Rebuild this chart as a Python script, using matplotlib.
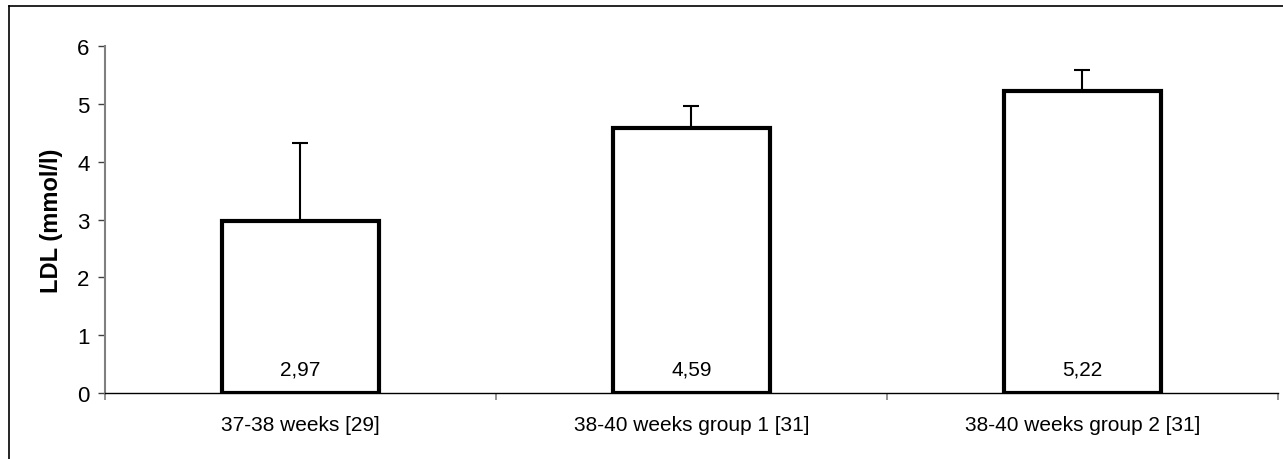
import numpy as np
import matplotlib.pyplot as plt
from matplotlib.lines import Line2D

plt.rcParams['font.family'] = ['Liberation Sans', 'DejaVu Sans']

groups = ['37-38 weeks [29]', '38-40 weeks group 1 [31]', '38-40 weeks group 2 [31]']
ldl_mean = [2.97, 4.59, 5.22]
ldl_err = [1.35, 0.38, 0.37]
value_labels = ['2,97', '4,59', '5,22']

fig = plt.figure(figsize=(12.83, 4.60), dpi=100)
ax = fig.add_axes([0.0818, 0.1435, 0.9143, 0.7543])

x = np.arange(len(groups))
ax.bar(x, ldl_mean, width=0.40, color='white', edgecolor='black', linewidth=3, zorder=2)
ax.errorbar(x, ldl_mean, yerr=[np.zeros(len(ldl_err)), ldl_err], fmt='none',
            ecolor='black', elinewidth=1.5, capsize=5.8, capthick=1.5, zorder=1)

for xi, lab in zip(x, value_labels):
    ax.text(xi, 0.41, lab, ha='center', va='center', fontsize=15, zorder=3)

ax.set_xlim(-0.5, 2.5)
ax.set_ylim(0, 6)
ax.set_yticks(range(0, 7))
ax.set_xticks([-0.5, 0.5, 1.5, 2.5], minor=False)
ax.set_xticklabels([])
ax.set_xticks(x, minor=True)
ax.set_xticklabels(groups, minor=True, fontsize=15)
ax.tick_params(axis='x', which='minor', length=0, pad=16)
ax.tick_params(axis='x', which='major', length=5, width=1.2, color='#808080', direction='out')
ax.tick_params(axis='y', length=5, width=1, color='#404040', labelsize=16, pad=6)

ax.set_ylabel('LDL (mmol/l)', fontsize=17, fontweight='bold', labelpad=10)

ax.spines['top'].set_visible(False)
ax.spines['right'].set_visible(False)
ax.spines['left'].set_color('#808080')
ax.spines['left'].set_linewidth(1.5)
ax.spines['bottom'].set_color('black')
ax.spines['bottom'].set_linewidth(1)

# outer chart border (only top and left fall inside the picture)
fig.add_artist(Line2D([9 / 1283, 9 / 1283], [0, 1 - 7 / 460], color='black', linewidth=1.2))
fig.add_artist(Line2D([9 / 1283, 1], [1 - 7 / 460, 1 - 7 / 460], color='black', linewidth=1.2))

fig.savefig('out.png', dpi=100)
